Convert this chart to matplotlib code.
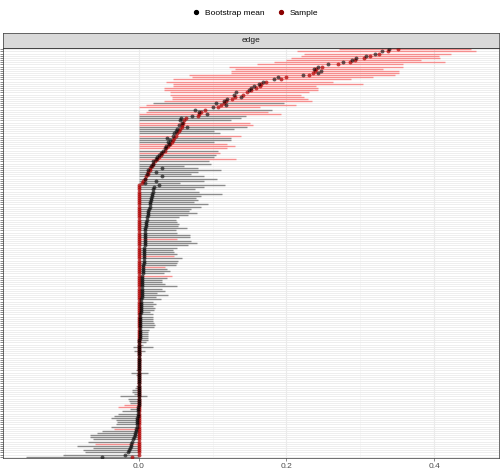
import numpy as np
import matplotlib.pyplot as plt
from matplotlib.lines import Line2D

# edges ordered by sample value (top row = strongest edge)
sample = [
    0.351, 0.337, 0.325, 0.313, 0.305, 0.293, 0.286, 0.270, 0.248, 0.240,
    0.238, 0.236, 0.231, 0.199, 0.193, 0.172, 0.165, 0.164, 0.159, 0.152,
    0.146, 0.141, 0.130, 0.126, 0.118, 0.115, 0.111, 0.107, 0.090, 0.084,
    0.081, 0.080, 0.064, 0.062, 0.060, 0.059, 0.058, 0.056, 0.055, 0.052,
    0.050, 0.048, 0.047, 0.045, 0.043, 0.040, 0.037, 0.035, 0.032, 0.030,
    0.027, 0.025, 0.022, 0.020, 0.018, 0.016, 0.015, 0.013, 0.012, 0.010,
    0.008, 0.006, 0.004, 0.0, 0.0, 0.0, 0.0, 0.0, 0.0, 0.0,
    0.0, 0.0, 0.0, 0.0, 0.0, 0.0, 0.0, 0.0, 0.0, 0.0,
    0.0, 0.0, 0.0, 0.0, 0.0, 0.0, 0.0, 0.0, 0.0, 0.0,
    0.0, 0.0, 0.0, 0.0, 0.0, 0.0, 0.0, 0.0, 0.0, 0.0,
    0.0, 0.0, 0.0, 0.0, 0.0, 0.0, 0.0, 0.0, 0.0, 0.0,
    0.0, 0.0, 0.0, 0.0, 0.0, 0.0, 0.0, 0.0, 0.0, 0.0,
    0.0, 0.0, 0.0, 0.0, 0.0, 0.0, 0.0, 0.0, 0.0, 0.0,
    0.0, 0.0, 0.0, 0.0, 0.0, 0.0, 0.0, 0.0, 0.0, 0.0,
    0.0, 0.0, 0.0, 0.0, 0.0, 0.0, 0.0, 0.0, 0.0, 0.0,
    0.0, 0.0, 0.0, 0.0, 0.0, 0.0, 0.0, 0.0, 0.0, 0.0,
    0.0, 0.0, 0.0, 0.0, 0.0, 0.0, 0.0, 0.0, 0.0, 0.0,
    0.0, 0.0, 0.0, 0.0, 0.0, 0.0, 0.0, 0.0, 0.0, 0.0,
    0.0, 0.0, 0.0, 0.0, 0.0, 0.0, 0.0, 0.0, 0.0, -0.009,
]

boot_mean = [
    0.339, 0.329, 0.320, 0.308, 0.294, 0.289, 0.277, 0.256, 0.242, 0.237,
    0.247, 0.242, 0.223, 0.188, 0.183, 0.168, 0.163, 0.156, 0.152, 0.149,
    0.132, 0.129, 0.138, 0.120, 0.115, 0.105, 0.118, 0.100, 0.076, 0.081,
    0.093, 0.072, 0.057, 0.056, 0.059, 0.055, 0.066, 0.052, 0.050, 0.048,
    0.047, 0.039, 0.043, 0.040, 0.041, 0.037, 0.035, 0.033, 0.030, 0.028,
    0.025, 0.023, 0.020, 0.019, 0.017, 0.031, 0.013, 0.023, 0.011, 0.032,
    0.009, 0.023, 0.009, 0.027, 0.021, 0.019, 0.019, 0.018, 0.018, 0.017,
    0.017, 0.016, 0.015, 0.015, 0.014, 0.013, 0.013, 0.012, 0.011, 0.011,
    0.010, 0.010, 0.010, 0.009, 0.009, 0.009, 0.009, 0.008, 0.008, 0.008,
    0.008, 0.008, 0.007, 0.007, 0.007, 0.007, 0.007, 0.007, 0.007, 0.007,
    0.006, 0.006, 0.006, 0.006, 0.006, 0.005, 0.005, 0.005, 0.005, 0.005,
    0.004, 0.004, 0.004, 0.004, 0.004, 0.004, 0.003, 0.003, 0.003, 0.003,
    0.003, 0.003, 0.003, 0.002, 0.002, 0.002, 0.002, 0.002, 0.002, 0.002,
    0.002, 0.002, 0.002, 0.002, 0.002, 0.001, 0.001, 0.001, 0.001, 0.001,
    0.001, 0.001, 0.001, 0.001, 0.001, 0.001, 0.001, 0.001, 0.001, 0.001,
    0.000, 0.000, 0.000, 0.000, 0.000, 0.000, 0.000, 0.000, 0.000, 0.000,
    0.000, 0.000, 0.000, 0.000, 0.000, 0.000, -0.001, -0.001, -0.001, -0.001,
    -0.001, -0.002, -0.002, -0.002, -0.002, -0.002, -0.003, -0.004, -0.005, -0.005,
    -0.006, -0.007, -0.009, -0.010, -0.011, -0.012, -0.013, -0.015, -0.018, -0.049,
]

ci_lower = [
    0.271, 0.214, 0.224, 0.220, 0.206, 0.200, 0.183, 0.160, 0.122, 0.130,
    0.125, 0.125, 0.068, 0.072, 0.047, 0.037, 0.047, 0.047, 0.034, 0.034,
    0.043, 0.043, 0.045, 0.045, 0.034, 0.019, 0.010, 0.000, 0.012, 0.010,
    0.0, 0.0, 0.0, 0.0, 0.0, 0.0, 0.0, 0.0, 0.0, 0.0,
    0.0, 0.0, 0.0, 0.0, 0.0, 0.0, 0.0, 0.0, 0.0, 0.0,
    0.0, 0.0, 0.0, 0.0, 0.0, 0.0, 0.0, 0.0, 0.0, 0.0,
    0.0, 0.0, 0.0, 0.0, 0.0, 0.0, 0.0, 0.0, 0.0, 0.0,
    0.0, 0.0, 0.0, 0.0, 0.0, 0.0, 0.0, 0.0, 0.0, 0.0,
    0.0, 0.0, 0.0, 0.0, 0.0, 0.0, 0.0, 0.0, 0.0, 0.0,
    0.0, 0.0, 0.0, 0.0, 0.0, 0.0, 0.0, 0.0, 0.0, 0.0,
    0.0, 0.0, 0.0, 0.0, 0.0, 0.0, 0.0, 0.0, 0.0, 0.0,
    0.0, 0.0, 0.0, 0.0, 0.0, 0.0, 0.0, 0.0, 0.0, 0.0,
    0.0, 0.0, 0.0, 0.0, 0.0, 0.0, 0.0, 0.0, 0.0, 0.0,
    0.0, 0.0, 0.0, 0.0, 0.0, 0.0, 0.0, 0.0, -0.007, 0.0,
    -0.006, -0.001, 0.0, 0.0, 0.0, 0.0, 0.0, 0.0, 0.0, -0.003,
    -0.011, -0.004, 0.0, 0.0, -0.001, -0.002, -0.004, -0.005, -0.009, -0.009,
    -0.006, -0.025, -0.014, -0.013, -0.012, -0.020, -0.028, -0.012, -0.022, -0.028,
    -0.034, -0.037, -0.030, -0.029, -0.031, -0.037, -0.033, -0.049, -0.056, -0.066,
    -0.066, -0.062, -0.069, -0.059, -0.084, -0.062, -0.075, -0.072, -0.103, -0.153,
]

ci_upper = [
    0.450, 0.457, 0.423, 0.407, 0.408, 0.382, 0.415, 0.357, 0.357, 0.330,
    0.352, 0.352, 0.347, 0.317, 0.287, 0.263, 0.303, 0.240, 0.242, 0.242,
    0.230, 0.220, 0.224, 0.229, 0.235, 0.197, 0.213, 0.164, 0.181, 0.175,
    0.193, 0.145, 0.138, 0.125, 0.150, 0.155, 0.147, 0.129, 0.102, 0.110,
    0.138, 0.125, 0.125, 0.102, 0.120, 0.130, 0.120, 0.107, 0.110, 0.104,
    0.102, 0.132, 0.095, 0.098, 0.061, 0.080, 0.111, 0.080, 0.071, 0.088,
    0.106, 0.088, 0.056, 0.117, 0.088, 0.076, 0.081, 0.113, 0.084, 0.077,
    0.080, 0.075, 0.094, 0.084, 0.071, 0.068, 0.079, 0.067, 0.054, 0.050,
    0.052, 0.054, 0.053, 0.066, 0.050, 0.052, 0.069, 0.069, 0.052, 0.071,
    0.079, 0.067, 0.052, 0.047, 0.048, 0.052, 0.048, 0.058, 0.053, 0.052,
    0.050, 0.035, 0.039, 0.043, 0.034, 0.045, 0.039, 0.032, 0.032, 0.036,
    0.052, 0.032, 0.036, 0.025, 0.040, 0.023, 0.030, 0.019, 0.024, 0.020,
    0.022, 0.021, 0.016, 0.019, 0.020, 0.019, 0.019, 0.021, 0.022, 0.021,
    0.014, 0.012, 0.012, 0.012, 0.012, 0.012, 0.010, 0.006, 0.020, 0.002,
    0.008, 0.003, 0.003, 0.002, 0.003, 0.002, 0.002, 0.001, 0.001, 0.001,
    0.013, 0.001, 0.001, 0.001, 0.001, 0.001, 0.001, 0.001, 0.001, 0.001,
    0.001, 0.011, 0.001, 0.001, 0.001, 0.001, 0.001, 0.001, 0.001, 0.001,
    0.001, 0.001, 0.001, 0.001, 0.001, 0.001, 0.001, 0.001, 0.001, 0.001,
    0.001, 0.001, 0.001, 0.001, 0.001, 0.001, 0.001, 0.001, 0.001, 0.001,
]

# rows whose interval is drawn in red (others grey)
red_rows = [0, 1, 2, 3, 4, 5, 6, 7, 8, 9, 10, 11, 12, 13, 14, 15, 16, 17, 18,
            19, 20, 21, 22, 23, 24, 26, 27, 29, 30, 34, 35, 40, 44, 45, 46, 48,
            51, 88, 96, 101, 105, 165, 166, 176, 183]

legend_labels = ["Bootstrap mean", "Sample"]
x_ticks = [0.0, 0.2, 0.4]

plt.rcParams['font.family'] = ['Liberation Sans', 'DejaVu Sans']

sample = np.array(sample)
boot_mean = np.array(boot_mean)
lo = np.array(ci_lower)
hi = np.array(ci_upper)
n = len(sample)
rows = np.arange(n)
is_red = np.isin(rows, red_rows)

W, H = 500, 471


def box(x0, y0, x1, y1):
    return [x0 / W, 1 - y1 / H, (x1 - x0) / W, (y1 - y0) / H]


fig = plt.figure(figsize=(W / 100, H / 100), dpi=100)
ax = fig.add_axes(box(3, 48, 499, 458))
strip = fig.add_axes(box(3, 33, 499, 48))

# intervals
ax.hlines(rows[~is_red], lo[~is_red], hi[~is_red], color='black', alpha=0.42,
          lw=1.0, zorder=2)
ax.hlines(rows[is_red], lo[is_red], hi[is_red], color='red', alpha=0.40,
          lw=1.0, zorder=2)

# points
ax.scatter(sample, rows, s=8, color='#b00000', alpha=0.7, lw=0, zorder=3)
ax.scatter(boot_mean, rows, s=8, color='black', alpha=0.6, lw=0, zorder=4)

xmin = min(lo.min(), sample.min(), boot_mean.min())
xmax = max(hi.max(), sample.max(), boot_mean.max())
pad = 0.05 * (xmax - xmin)
ax.set_xlim(xmin - pad, xmax + pad)
ax.set_ylim(n - 1 + 0.6, -0.6)

ax.set_yticks(rows)
ax.set_yticklabels([])
ax.set_xticks(x_ticks)
ax.set_xticklabels([f"{v:.1f}" for v in x_ticks])
ax.set_xticks([-0.1, 0.1, 0.3], minor=True)
ax.tick_params(which='major', length=2, width=0.4, color='#333333',
               labelsize=6, labelcolor='#4d4d4d', pad=1.5)
ax.tick_params(which='minor', length=0)
ax.set_axisbelow(True)
ax.grid(which='major', axis='y', color='#ebebeb', lw=0.6)
ax.grid(which='major', axis='x', color='#ebebeb', lw=0.8)
ax.grid(which='minor', axis='x', color='#f2f2f2', lw=0.4)
for sp in ax.spines.values():
    sp.set_color('#333333')
    sp.set_linewidth(0.5)

# facet strip
strip.set_facecolor('#d9d9d9')
strip.set_xticks([])
strip.set_yticks([])
for sp in strip.spines.values():
    sp.set_color('#333333')
    sp.set_linewidth(0.5)
strip.text(0.5, 0.5, "edge", ha='center', va='center', fontsize=6,
           color='#1a1a1a', transform=strip.transAxes)

handles = [Line2D([], [], marker='o', ls='', color='black', ms=2.8),
           Line2D([], [], marker='o', ls='', color='#8b0000', ms=2.8)]
fig.legend(handles, legend_labels, loc='center', bbox_to_anchor=(0.51, 0.973),
           ncol=2, frameon=False, fontsize=6, handletextpad=0.6,
           columnspacing=1.4, handlelength=1.0)

fig.savefig("out.png", dpi=100)
